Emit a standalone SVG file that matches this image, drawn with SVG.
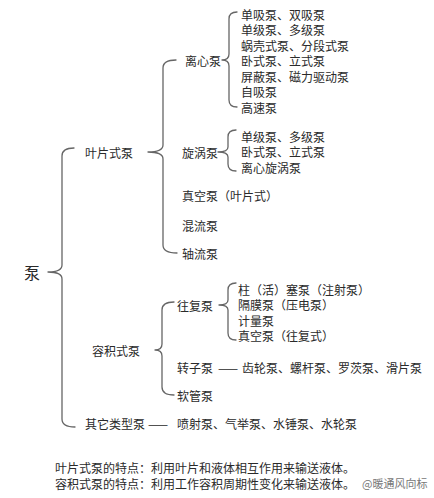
<svg xmlns="http://www.w3.org/2000/svg" width="434" height="498" viewBox="0 0 434 498">
<style>
text{font-family:"Noto Sans CJK SC","Noto Sans",sans-serif;font-size:12px;fill:#2a2a2a;dominant-baseline:central}
.root{font-size:16px}
.wm{fill:#777;font-size:11px}
.brace{fill:none;stroke:#666;stroke-width:1.3;stroke-linecap:round;stroke-linejoin:round}
</style>
<rect width="434" height="498" fill="#ffffff"/>
<g id="connectors">
<path class="brace" d="M74,148 Q62,148 62,156 L62,265 Q62,272 48,272 Q62,272 62,279 L62,419 Q62,427 75,427"/>
<path class="brace" d="M176,60 Q163,60 163,68 L163,145 Q163,152 148,152 Q163,152 163,159 L163,245 Q163,253 177,253"/>
<path class="brace" d="M237,12 Q229,12 229,19 L229,54 Q229,60 222,60 Q229,60 229,66 L229,100 Q229,107 237,107"/>
<path class="brace" d="M236,130 Q228,130 228,137 L228,147 Q228,152 218,152 Q228,152 228,157 L228,164 Q228,171 236,171"/>
<path class="brace" d="M174,302 Q162,302 162,310 L162,344 Q162,350 155,350 Q162,350 162,356 L162,387 Q162,395 174,395"/>
<path class="brace" d="M236,283 Q228,283 228,290 L228,300 Q228,305 219,305 Q228,305 228,310 L228,333 Q228,340 236,340"/>
</g>
<g id="root"><text class="root" x="24" y="272">泵</text></g>
<g id="yepian"><text x="85" y="152">叶片式泵</text></g>
<g id="lixin"><text x="185" y="60">离心泵</text></g>
<g id="lixin-items">
<text x="241" y="14">单吸泵、双吸泵</text>
<text x="241" y="29.5">单级泵、多级泵</text>
<text x="241" y="45">蜗壳式泵、分段式泵</text>
<text x="241" y="60.5">卧式泵、立式泵</text>
<text x="241" y="76">屏蔽泵、磁力驱动泵</text>
<text x="241" y="91.5">自吸泵</text>
<text x="241" y="107">高速泵</text>
</g>
<g id="xuanwo"><text x="182" y="152">旋涡泵</text></g>
<g id="xuanwo-items">
<text x="241" y="136">单级泵、多级泵</text>
<text x="241" y="151.5">卧式泵、立式泵</text>
<text x="241" y="167">离心旋涡泵</text>
</g>
<g id="zhenkong-yp"><text x="182" y="195">真空泵（叶片式）</text></g>
<g id="hunliu"><text x="182" y="225">混流泵</text></g>
<g id="zhouliu"><text x="182" y="253">轴流泵</text></g>
<g id="rongji"><text x="92" y="350">容积式泵</text></g>
<g id="wangfu"><text x="177" y="305">往复泵</text></g>
<g id="wangfu-items">
<text x="238" y="289">柱（活）塞泵（注射泵）</text>
<text x="238" y="304.5">隔膜泵（压电泵）</text>
<text x="238" y="320">计量泵</text>
<text x="238" y="335.5">真空泵（往复式）</text>
</g>
<g id="zhuanzi">
<text x="177" y="367">转子泵</text>
<text x="218" y="367">——</text>
<text x="242" y="367">齿轮泵、螺杆泵、罗茨泵、滑片泵</text>
</g>
<g id="ruanguan"><text x="177" y="395">软管泵</text></g>
<g id="qita">
<text x="85" y="423">其它类型泵</text>
<text x="148" y="423">——</text>
<text x="177" y="423">喷射泵、气举泵、水锤泵、水轮泵</text>
</g>
<g id="notes">
<text x="55" y="467">叶片式泵的特点：利用叶片和液体相互作用来输送液体。</text>
<text x="55" y="483">容积式泵的特点：利用工作容积周期性变化来输送液体。</text>
<text class="wm" x="362" y="483">@暖通风向标</text>
</g>
</svg>
